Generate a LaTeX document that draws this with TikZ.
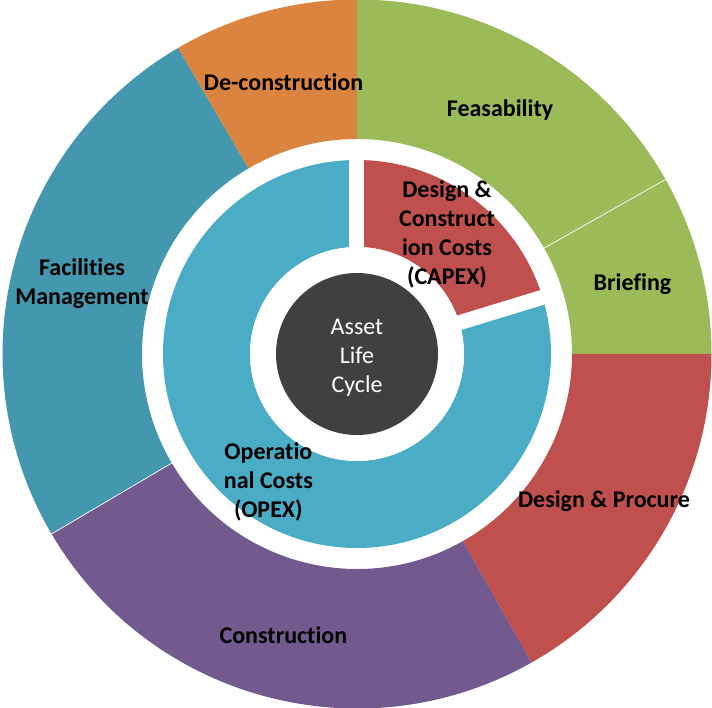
\documentclass[tikz,border=0pt]{standalone}
\usepackage{fontspec}
\setmainfont{Carlito}[Ligatures=NoCommon]
\definecolor{cOrange}{HTML}{DA843F}
\definecolor{cGreen}{HTML}{9BBB59}
\definecolor{cTeal}{HTML}{4397AE}
\definecolor{cPurple}{HTML}{72598E}
\definecolor{cRed}{HTML}{C0504D}
\definecolor{cBlue}{HTML}{4BACC6}
\definecolor{cDark}{HTML}{404040}
\newcommand{\annsec}[5]{% color, start, end, rin, rout
  \fill[#1] (#2:#5) arc[start angle=#2, end angle=#3, radius=#5] -- (#3:#4) arc[start angle=#3, end angle=#2, radius=#4] -- cycle;}
\begin{document}
\begin{tikzpicture}[
  lbl/.style={font=\bfseries\fontsize{24}{29}\selectfont, align=center, text=black, inner sep=0pt},
  ctr/.style={font=\fontsize{24}{29}\selectfont, align=center, text=white, inner sep=0pt},
  gap/.style={white, line width=15pt},
  seam/.style={white, line width=0.7pt}
]
\useasboundingbox (-357pt,-354pt) rectangle (355pt,354pt);
% outer ring
\annsec{cGreen}{30}{90}{215pt}{354.5pt}
\annsec{cGreen}{0}{30}{215pt}{354.5pt}
\annsec{cRed}{-60.5}{0}{215pt}{354.5pt}
\annsec{cPurple}{-149.5}{-60.5}{215pt}{354.5pt}
\annsec{cTeal}{120.3}{210.5}{215pt}{354.5pt}
\annsec{cOrange}{90}{120.3}{215pt}{354.5pt}
\draw[seam] (29.5:215pt) -- (29.5:354.5pt);
\draw[seam] (210.5:215pt) -- (210.5:354.5pt);
% inner ring
\annsec{cRed}{17}{90}{107pt}{194pt}
\annsec{cBlue}{-270}{17}{107pt}{194pt}
\coordinate (o) at (0,0);
\coordinate (g1) at (90:200pt);
\coordinate (g2) at (17:200pt);
\draw[gap] (o) -- (g1);
\draw[gap] (o) -- (g2);
\fill[white] (o) circle[radius=107pt];
% centre
\fill[cDark] (o) circle[radius=81pt];
\node[ctr] (alc) at (0pt,-4pt) {Asset\\Life\\Cycle};
% labels
\node[lbl] (decon) at (-73.4pt,272pt) {De-construction};
\node[lbl] (feas) at (143pt,244pt) {Feasability};
\node[lbl] (brief) at (275.5pt,70pt) {Briefing};
\node[lbl] (dp) at (247pt,-147pt) {Design \& Procure};
\node[lbl] (cons) at (-73.6pt,-281pt) {Construction};
\node[lbl] (fm) at (-275pt,70pt) {Facilities\\Management};
\node[lbl] (capex) at (90pt,120pt) {Design \&\\Construct\\ion Costs\\(CAPEX)};
\node[lbl] (opex) at (-88.6pt,-128pt) {Operatio\\nal Costs\\(OPEX)};
\end{tikzpicture}
\end{document}
